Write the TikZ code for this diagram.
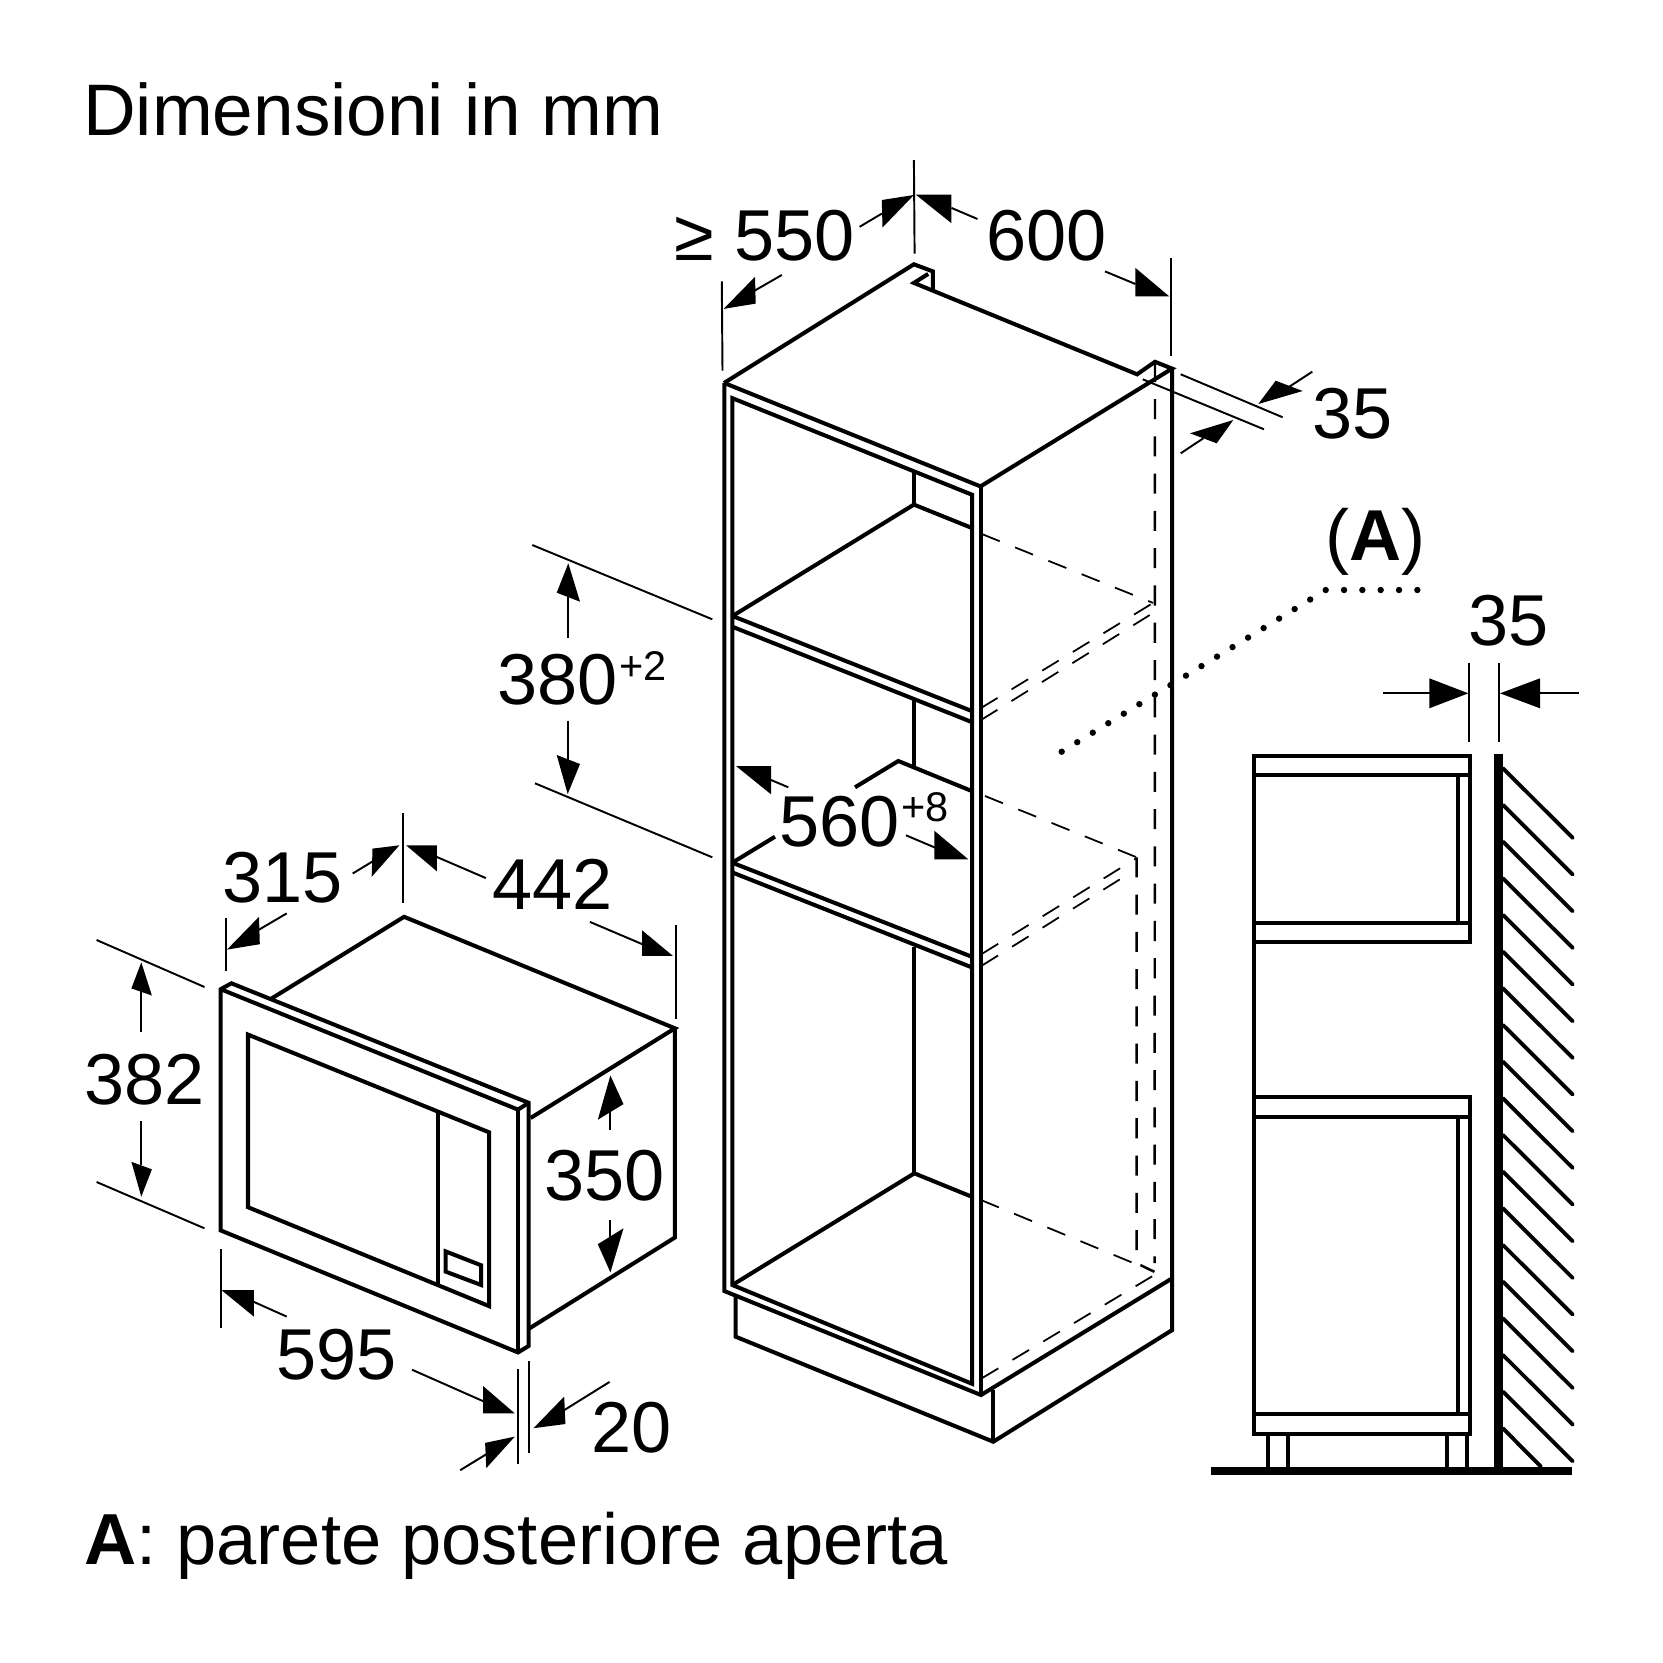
\documentclass[tikz,border=0pt]{standalone}
\usepackage{fontspec}
\setmainfont{Liberation Sans}
\tikzset{
  solidline/.style={line width=1.15pt,line cap=butt,line join=miter},
  dimline/.style={line width=0.55pt},
  dashline/.style={line width=0.5pt,dash pattern=on 5.5pt off 4.7pt},
  dashsolid/.style={line width=0.7pt,dash pattern=on 5.7pt off 4.9pt},
  wall/.style={line width=2.4pt},
  hatchline/.style={line width=1.1pt,line cap=round},
  lbl/.style={inner sep=0pt,anchor=base west,font=\fontsize{20.5pt}{25pt}\selectfont},
  suplbl/.style={inner sep=0pt,anchor=base west,font=\fontsize{11.8pt}{14pt}\selectfont},
  titlelbl/.style={inner sep=0pt,anchor=base west,font=\fontsize{20.75pt}{25pt}\selectfont},
  footlbl/.style={inner sep=0pt,anchor=base west,font=\fontsize{20.55pt}{25pt}\selectfont}
}
\newcommand\dimarrow[5]{\draw[dimline] #1 -- #2; \fill #3 -- #4 -- #5 -- cycle;}
\begin{document}
\begin{tikzpicture}[x=0.01cm,y=-0.01cm]
\fill[white] (0,0) rectangle (1663,1663);
\useasboundingbox (0,0) rectangle (1663,1663);

% ---------- texts
\node[titlelbl] (title) at (82.5,135.8) {Dimensioni in mm};
\node[footlbl] (foot) at (83.5,1564) {\textbf{A}: parete posteriore aperta};
\node[lbl] (t550) at (674,260.7) {≥ 550};
\node[lbl] (t600) at (985.5,260.7) {600};
\node[lbl] (t35a) at (1312,438.5) {35};
\node[lbl] (tA) at (1324.5,560) {(\textbf{A})};
\node[lbl] (t35b) at (1468,645) {35};
\node[lbl] (t380) at (497,704) {380};
\node[suplbl] (t380s) at (619,680.7) {+2};
\node[lbl] (t560) at (778.5,846) {560};
\node[suplbl] (t560s) at (901,821.7) {+8};
\node[lbl] (t315) at (221.5,902.9) {315};
\node[lbl] (t442) at (491.5,909) {442};
\node[lbl] (t382) at (84,1104) {382};
\node[lbl] (t350) at (544,1200.9) {350};
\node[lbl] (t595) at (276,1379.8) {595};
\node[lbl] (t20) at (591,1452.6) {20};

% ---------- tower: solid edges
\begin{scope}[solidline]
\draw (724,383) -- (913.9,264.3) -- (932.9,271.4) -- (932.9,289);
\draw (928.2,273.9) -- (913.9,282.9) -- (1137.1,374.3) -- (1155,361.8) -- (1172.1,368.6) -- (980.5,486.4);
\draw (724.3,383) -- (980.5,486.4);
\draw (1172.2,368.6) -- (1172.2,1330) -- (993.3,1441.7) -- (735.7,1336.7) -- (735.7,1296);
\draw (993.3,1390) -- (993.3,1441.7);
\draw (724.3,383) -- (724.3,1291) -- (981,1395) -- (1172.2,1278.3);
\draw (981,486.4) -- (981,1395);
\draw (972.2,1383.8) -- (972.2,494.8) -- (732.4,398.2) -- (732.4,1285) -- cycle;
% shelves
\draw (732.5,616) -- (913.9,504.6) -- (971.7,527.9);
\draw (732.5,616) -- (971.7,711);
\draw (733,627) -- (971.7,722);
\draw (732.3,862.7) -- (775,836.7);
\draw (855,787.3) -- (898.3,761) -- (971.7,791);
\draw (732.3,862.7) -- (971.7,956.7);
\draw (733,872.7) -- (971.7,967.3);
\draw (732.3,1285) -- (914.3,1173.3) -- (971.7,1196.7);
\draw (914.3,473) -- (914.3,504.6);
\draw (914.3,700) -- (914.3,767.3);
\draw (914.3,946.7) -- (914.3,1173.3);
\end{scope}

% ---------- tower: hidden edges
\begin{scope}[dashline]
\draw (981.8,534) -- (1153,602.9);
\draw (981,708) -- (1153,603);
\draw (981,720) -- (1153,613);
\draw (985,796) -- (1136.7,857.3);
\draw (981.7,954) -- (1136.7,858);
\draw (981.7,965.7) -- (1130,873);
\draw (981,1200) -- (1154.3,1271.7);
\draw (981.7,1378.3) -- (1154.3,1275);
\end{scope}
\draw[dashsolid] (1155,361.8) -- (1154.6,1263);
\draw[dashsolid] (1136.7,857.3) -- (1136.7,1263.3) -- (1154.3,1271.7);

% ---------- dotted leader
\foreach \k in {0,...,17} \fill ({1061.7+\k*15.53},{751.7-\k*9.51}) circle (3.2);
\foreach \k in {1,...,5} \fill ({1325.7+\k*18.33},590) circle (3.2);

% ---------- tower dimensions
\begin{scope}[dimline]
\draw (913.9,160) -- (914.6,253.6);
\draw (721.8,281.4) -- (722.5,370.7);
\draw (1171,257.9) -- (1171,356.4);
\draw (1180.7,374.3) -- (1282.7,417.3);
\draw (1142.7,379.3) -- (1264,429.3);
\draw (532.3,545) -- (712.3,619.3);
\draw (535,783.3) -- (712.3,857.3);
\end{scope}
\dimarrow{(859.6,226.8)}{(881.8,213.6)}{(881.8,200)}{(882.5,227.5)}{(913.9,195)}
\dimarrow{(781.8,275)}{(754,291)}{(755,276.8)}{(755.7,303.6)}{(723.6,308.9)}
\dimarrow{(977.5,219)}{(951.4,207.9)}{(951.4,194.6)}{(951.4,223.2)}{(915.7,194.6)}
\dimarrow{(1105,271.4)}{(1135.4,284)}{(1135.4,267.9)}{(1135.4,296.4)}{(1169.3,296.4)}
\dimarrow{(1312.3,371.7)}{(1289.3,386.7)}{(1275.7,380.7)}{(1302.7,391)}{(1258.3,404)}
\dimarrow{(1180.7,453.3)}{(1203.3,438.3)}{(1190,433.3)}{(1216.7,443.3)}{(1233.3,420)}
\dimarrow{(568.3,637.7)}{(568.3,596.7)}{(556.7,592.7)}{(580,601.7)}{(568.3,563.3)}
\dimarrow{(568.3,720.7)}{(568.3,760)}{(556.7,755)}{(580,764)}{(567.7,794)}
\dimarrow{(788.3,787.3)}{(771,780)}{(771,766)}{(771,794.3)}{(736,766)}
\dimarrow{(906,835.3)}{(936.7,848.3)}{(934.3,830.7)}{(934.3,859.3)}{(968.3,859.3)}

% ---------- microwave
\begin{scope}[solidline]
\draw (270.9,998.9) -- (404.1,916.8) -- (674.9,1028.3) -- (530.6,1118);
\draw (674.9,1028.3) -- (674.9,1237.5) -- (529.4,1328.4);
\draw (220.7,989.2) -- (231.4,983.3) -- (528.6,1102.8) -- (528.6,1346) -- (518,1352.4) -- (220.7,1230.4) -- cycle;
\draw (220.7,989.2) -- (518,1109.6) -- (528.6,1102.8);
\draw (518,1109.6) -- (518,1352.4);
\draw (248,1034.6) -- (489.1,1132.3) -- (489.1,1306.1) -- (248,1207.2) -- cycle;
\draw (437.7,1112.5) -- (437.7,1284.2);
\draw (445.6,1251.4) -- (481.2,1265.3) -- (481.2,1285) -- (445.6,1271.6) -- cycle;
\end{scope}

% ---------- microwave dimensions
\begin{scope}[dimline]
\draw (402.9,813) -- (402.9,903.3);
\draw (675.6,925.2) -- (675.6,1018.7);
\draw (226.2,917.6) -- (226.2,970.7);
\draw (96.6,940) -- (204.5,987);
\draw (96.6,1182) -- (204.5,1228.3);
\draw (220.7,1249.3) -- (220.7,1328);
\draw (518,1369.2) -- (518,1464);
\draw (528.6,1360.8) -- (528.6,1453.4);
\end{scope}
\dimarrow{(352.7,873.5)}{(378.4,857.9)}{(372.5,848.6)}{(371.7,876.8)}{(399.4,845.3)}
\dimarrow{(286.7,913.4)}{(257.9,930.3)}{(259,916.8)}{(259.8,944.2)}{(227,949.6)}
\dimarrow{(485.9,878.1)}{(436.9,857)}{(436.9,845.3)}{(436.9,871.3)}{(406.1,845.3)}
\dimarrow{(589.9,921.9)}{(645.2,945.4)}{(642.1,930.3)}{(642.1,955.9)}{(672.9,955.9)}
\dimarrow{(141.3,1031.7)}{(141.3,990.5)}{(131.4,988.4)}{(151.9,995.5)}{(141.3,962.3)}
\dimarrow{(141.3,1120.9)}{(141.3,1165)}{(131.4,1161.8)}{(151.9,1169.3)}{(141.3,1196.7)}
\dimarrow{(610.4,1130.2)}{(610.4,1110.4)}{(597.8,1119.7)}{(623.5,1104.1)}{(610.4,1075.5)}
\dimarrow{(610.4,1219.8)}{(610.4,1236.7)}{(597.8,1244.2)}{(623.5,1228.3)}{(610.4,1272.4)}
\dimarrow{(286.7,1316.6)}{(253.9,1301.9)}{(253.9,1290.1)}{(253.9,1316.6)}{(221.5,1290.1)}
\dimarrow{(412,1369.7)}{(487.1,1402.9)}{(483.2,1386.1)}{(483.2,1413.4)}{(514.8,1413.4)}
\dimarrow{(609.6,1381.9)}{(560.2,1412.6)}{(564.2,1396.6)}{(565.4,1424)}{(533.4,1428.2)}
\dimarrow{(460.2,1470.2)}{(491.1,1451.3)}{(485.1,1442.9)}{(486.3,1468.1)}{(514.8,1436.6)}

% ---------- side view
\begin{scope}[solidline]
\draw (1253.7,1434.3) -- (1253.7,755.7) -- (1470,755.7) -- (1470,942.3) -- (1253.7,942.3);
\draw (1253.7,775.3) -- (1470,775.3);
\draw (1253.7,922.7) -- (1470,922.7);
\draw (1457.7,775.3) -- (1457.7,922.7);
\draw (1253.7,1097.3) -- (1470,1097.3) -- (1470,1434.3) -- (1252,1434.3);
\draw (1253.7,1117.3) -- (1470,1117.3);
\draw (1253.7,1414) -- (1470,1414);
\draw (1457.7,1117.3) -- (1457.7,1414);
\draw (1268.3,1434.3) -- (1268.3,1467);
\draw (1287.7,1434.3) -- (1287.7,1467);
\draw (1446.7,1434.3) -- (1446.7,1467);
\draw (1466.7,1434.3) -- (1466.7,1467);
\end{scope}
\draw[wall] (1498.7,754) -- (1498.7,1471);
\draw[wall] (1211,1471) -- (1571.7,1471);
\foreach \k in {0,...,17} \draw[hatchline] (1503,{768.3+\k*36.67}) -- (1572.7,{837.9+\k*36.67});
\draw[hatchline] (1503,1428.4) -- (1541,1466.7);

\begin{scope}[dimline]
\draw (1469,662.7) -- (1469,742.3);
\draw (1499,662.7) -- (1499,742.3);
\end{scope}
\dimarrow{(1382.7,693.3)}{(1430,693.3)}{(1429.3,678.3)}{(1429.3,708.3)}{(1468.3,693.3)}
\dimarrow{(1579,693.3)}{(1540,693.3)}{(1540,678.3)}{(1540,708.3)}{(1500,693.3)}
\end{tikzpicture}
\end{document}
